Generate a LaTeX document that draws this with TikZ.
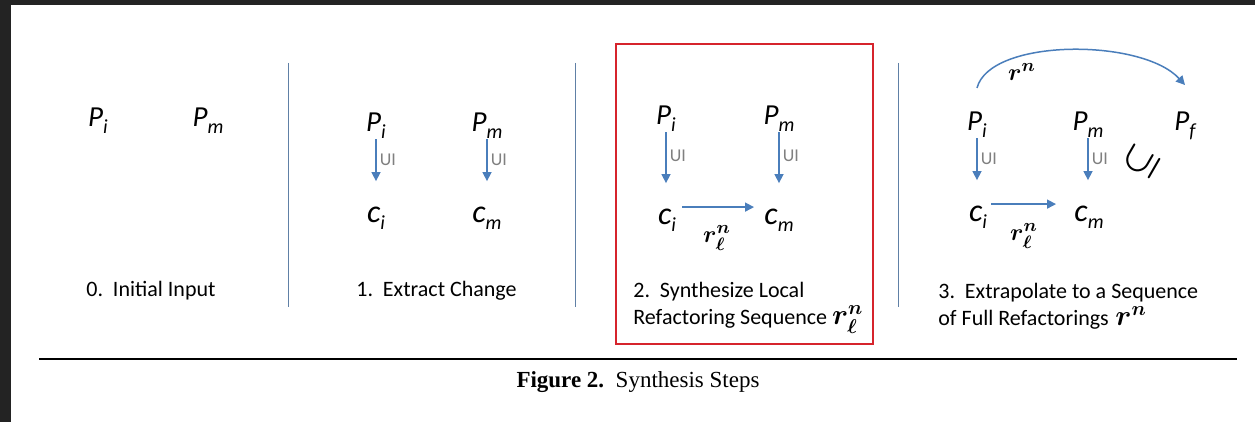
\documentclass[tikz,border=0pt]{standalone}
\usepackage{fontspec}
\setmainfont{Carlito}
\newfontfamily\capfont{Liberation Serif}
\usetikzlibrary{arrows.meta,positioning}
\definecolor{arrowblue}{RGB}{74,126,187}
\definecolor{uigray}{RGB}{128,128,128}
\definecolor{sepblue}{RGB}{96,128,166}
\definecolor{boxred}{RGB}{214,36,44}
\definecolor{shotframe}{RGB}{35,35,35}
\newcommand{\progsub}[2]{#1\raisebox{-3.5pt}{\fontsize{10}{10}\selectfont #2}}
\tikzset{
  prog/.style={inner sep=0pt, anchor=base, font=\fontsize{14.5}{14}\selectfont\itshape},
  chg/.style={inner sep=0pt, anchor=base, font=\fontsize{16}{16}\selectfont\itshape},
  uarrow/.style={arrowblue, line width=0.75pt, -{Triangle[length=4.5pt,width=4.5pt]}},
  uidown/.style={uarrow, shorten >=13pt},
  ui/.style={right, pos=0.3, inner sep=1.5pt, text=uigray, font=\fontsize{9}{9}\selectfont},
  steplabel/.style={anchor=base west, inner sep=0pt, font=\fontsize{11}{11}\selectfont},
  rlab/.style={inner sep=0pt, font=\fontsize{13}{13}\selectfont\boldmath},
  sep/.style={sepblue, line width=0.5pt},
}
\begin{document}
\begin{tikzpicture}[x=0.5pt,y=-0.5pt]
      \useasboundingbox (0,0) rectangle (1255,422);
      \fill[white] (0,0) rectangle (1255,422);
      \fill[shotframe] (0,0) rectangle (1255,5);
      \fill[shotframe] (0,0) rectangle (11,422);
      \draw[sep] (288,63) -- (288,307);
      \draw[sep] (575,63) -- (575,307);
      \draw[sep] (898,63) -- (898,307);

      % 0. initial input
      \node[prog] (Pi0) at (98,127) {\progsub{P}{i}};
      \node[prog] (Pm0) at (208,127) {\progsub{P}{m}};
      \node[steplabel] (s0) at (86,297) {0.\hspace{0.45em}Initial Input};

      % 1. extract change
      \node[prog] (Pi1) at (376,132) {\progsub{P}{i}};
      \node[prog] (Pm1) at (487,132) {\progsub{P}{m}};
      \node[chg] (Ci1) at (376,223) {\progsub{c}{i}};
      \node[chg] (Cm1) at (487,223) {\progsub{c}{m}};
      \draw[uidown] (Pi1.south) -- node[ui] {UI} (Pi1.south |- Ci1.north);
      \draw[uidown] (Pm1.south) -- node[ui] {UI} (Pm1.south |- Cm1.north);
      \node[steplabel] (s1) at (356,297) {1.\hspace{0.45em}Extract Change};

      % 2. synthesize
      \draw[boxred, line width=1pt] (616,44) rectangle (873,344);
      \node[prog] (Pi2) at (666,125) {\progsub{P}{i}};
      \node[prog] (Pm2) at (779,125) {\progsub{P}{m}};
      \node[chg] (Ci2) at (667,225) {\progsub{c}{i}};
      \node[chg] (Cm2) at (779,225) {\progsub{c}{m}};
      \draw[uidown] (Pi2.south) -- node[ui] {UI} (Pi2.south |- Ci2.north);
      \draw[uidown] (Pm2.south) -- node[ui] {UI} (Pm2.south |- Cm2.north);
      \coordinate (h2) at ([yshift=1pt]Ci2.north east);
      \draw[uarrow, shorten <=3pt, shorten >=5pt] (h2) -- (h2 -| Cm2.west);
      \node[rlab] (rl2) at (717,238) {$r_\ell^n$};
      \node[steplabel] (s2a) at (633,298) {2.\hspace{0.45em}Synthesize Local};
      \node[steplabel] (s2b) at (633,325) {Refactoring Sequence {\fontsize{14}{14}\selectfont\boldmath$r_\ell^n$}};

      % 3. extrapolate
      \node[prog] (Pi3) at (977,131) {\progsub{P}{i}};
      \node[prog] (Pm3) at (1088,131) {\progsub{P}{m}};
      \node[prog] (Pf3) at (1185,131) {\progsub{P}{f}};
      \node[chg] (Ci3) at (978,222) {\progsub{c}{i}};
      \node[chg] (Cm3) at (1089,222) {\progsub{c}{m}};
      \draw[uidown] (Pi3.south) -- node[ui] {UI} (Pi3.south |- Ci3.north);
      \draw[uidown] (Pm3.south) -- node[ui] {UI} (Pm3.south |- Cm3.north);
      \coordinate (h3) at ([yshift=1pt]Ci3.north east);
      \draw[uarrow, shorten <=2pt, shorten >=9pt] (h3) -- (h3 -| Cm3.west);
      \node[rlab] (rl3) at (1024,236) {$r_\ell^n$};
      \draw[uarrow] ([yshift=12pt]Pi3.north) .. controls +(13,-50) and +(-43,-47) .. ([yshift=13.5pt]Pf3.north);
      \node[rlab] (rn3) at (1022,72) {$r^n$};
      \node[rotate=60, inner sep=0pt, font=\fontsize{16}{16}\selectfont\boldmath] (inc3) at (1142,162) {$\subseteq$};
      \node[steplabel] (s3a) at (938,299) {3.\hspace{0.45em}Extrapolate to a Sequence};
      \node[steplabel] (s3b) at (938,326) {of Full Refactorings\hspace{0.3em}{\fontsize{14}{14}\selectfont\boldmath$r^n$}};

      %\small
      \draw[line width=0.9pt] (39,359) -- (1237,359);
      \node[anchor=base, inner sep=0pt, font=\capfont\fontsize{11.5}{12}\selectfont] (cap) at (638,388) {\textbf{Figure 2.}\hspace{0.5em}Synthesis Steps};
    \end{tikzpicture}
\end{document}
